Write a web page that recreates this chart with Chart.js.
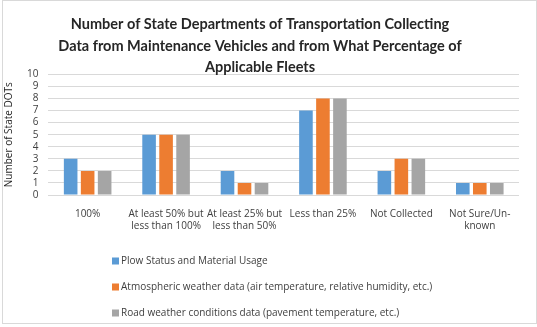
<!DOCTYPE html>
<html>
<head>
<meta charset="utf-8">
<script src="https://cdn.jsdelivr.net/npm/chart.js@4"></script>
<style>
  body { margin: 0; background: #fff; }
  #box { position: absolute; left: 2px; top: 0; width: 533px; height: 322px; border: 1px solid #d9d9d9; }
  canvas { position: absolute; left: 0; top: 0; }
</style>
</head>
<body>
<div id="box"></div>
<canvas id="grafico" width="537" height="327"></canvas>
<script>
// Datos
const categorias = [
    '100%',
    ['At least 50% but', 'less than 100%'],
    ['At least 25% but', 'less than 50%'],
    'Less than 25%',
    'Not Collected',
    ['Not Sure/Un-', 'known']
];

const plow = [3, 5, 2, 7, 2, 1];
const atmos = [2, 5, 1, 8, 3, 1];
const road = [2, 5, 1, 8, 3, 1];

const nombres = [
    'Plow Status and Material Usage',
    'Atmospheric weather data (air temperature, relative humidity, etc.)',
    'Road weather conditions data (pavement temperature, etc.)'
];
const colores = ['#5b9bd5', '#ed7d31', '#a5a5a5'];

const fuente = "'Open Sans', 'Liberation Sans', sans-serif";
const texto = '#404040';

// leyenda vertical abajo
const leyenda = {
    id: 'leyenda',
    afterDraw(chart) {
        const ctx = chart.ctx;
        ctx.save();
        ctx.font = '10px ' + fuente;
        ctx.textBaseline = 'middle';
        chart.data.datasets.forEach((ds, i) => {
            const y = 261 + i * 26;
            ctx.fillStyle = ds.backgroundColor;
            ctx.fillRect(112, y - 3.5, 7, 7);
            ctx.fillStyle = texto;
            ctx.fillText(ds.label, 121, y);
        });
        ctx.restore();
    }
};

let barras = document.getElementById('grafico').getContext('2d');

new Chart(barras, {
    type: 'bar',
    data: {
        labels: categorias,
        datasets: [
            { label: nombres[0], data: plow, backgroundColor: colores[0] },
            { label: nombres[1], data: atmos, backgroundColor: colores[1] },
            { label: nombres[2], data: road, backgroundColor: colores[2] }
        ]
    },
    options: {
        responsive: false,
        animation: false,
        categoryPercentage: 0.65,
        barPercentage: 0.8,
        layout: { padding: { left: 1, right: 18, top: 0, bottom: 90 } },
        plugins: {
            legend: { display: false },
            tooltip: { enabled: false },
            title: {
                display: true,
                text: [
                    'Number of State Departments of Transportation Collecting',
                    'Data from Maintenance Vehicles and from What Percentage of',
                    'Applicable Fleets'
                ],
                color: '#262626',
                font: { family: 'Lato, sans-serif', size: 14.5, weight: 'bold', lineHeight: 1.48 },
                padding: { top: 14, bottom: -4 }
            }
        },
        scales: {
            x: {
                grid: { display: false },
                border: { display: false },
                ticks: {
                    color: texto,
                    font: { family: fuente, size: 10 },
                    maxRotation: 0,
                    autoSkip: false,
                    padding: 5
                }
            },
            y: {
                min: 0,
                max: 10,
                grid: { color: '#d9d9d9', drawTicks: false },
                border: { display: false },
                ticks: {
                    stepSize: 1,
                    autoSkip: false,
                    color: texto,
                    font: { family: fuente, size: 10 },
                    padding: 10
                },
                title: {
                    display: true,
                    text: 'Number of State DOTs',
                    color: '#262626',
                    font: { family: fuente, size: 10 },
                    padding: 2
                }
            }
        }
    },
    plugins: [leyenda]
});
</script>
</body>
</html>
